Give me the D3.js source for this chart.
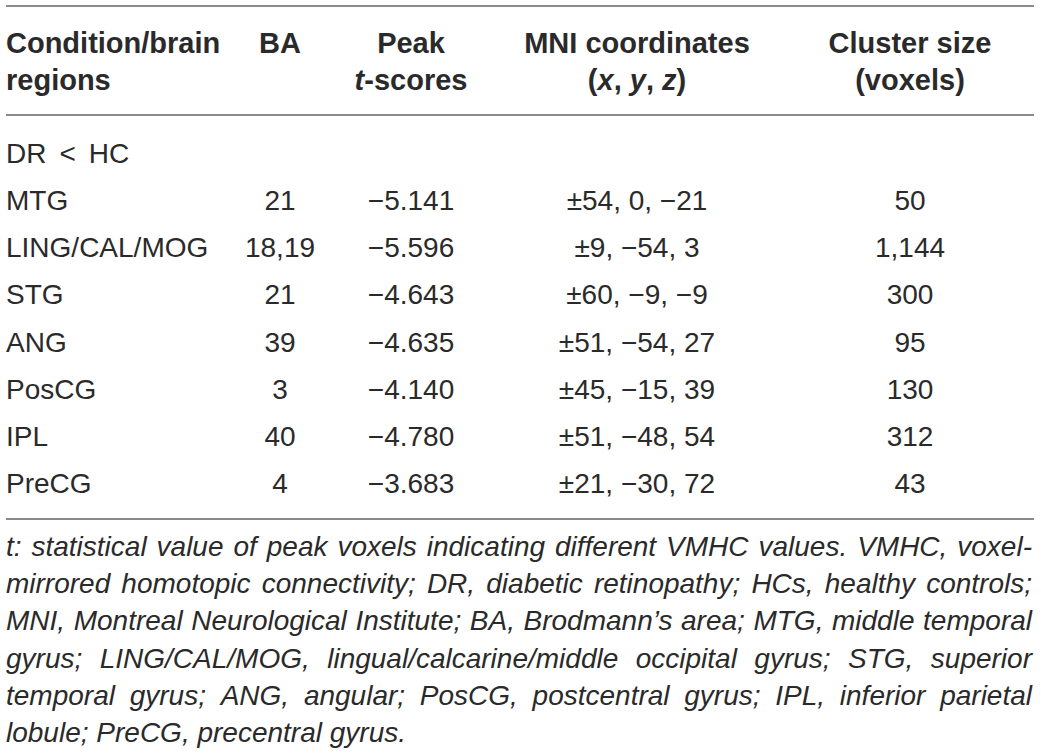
<!DOCTYPE html>
<html>
<head>
<meta charset="utf-8">
<script src="https://cdn.jsdelivr.net/npm/d3@7"></script>
<style>
  html, body { margin: 0; padding: 0; background: #fff; }
  text { font-family: "Liberation Sans", Arial, sans-serif; fill: #2b2a2a; }
</style>
</head>
<body>
<svg id="table"></svg>
<script>
const groupLabel = ["DR", "<", "HC"]
const regions = ["MTG", "LING/CAL/MOG", "STG", "ANG", "PosCG", "IPL", "PreCG"]
const brodmann = ["21", "18,19", "21", "39", "3", "40", "4"]
const peakT = [-5.141, -5.596, -4.643, -4.635, -4.140, -4.780, -3.683]
const mniCoords = [[54, 0, -21], [9, -54, 3], [60, -9, -9], [51, -54, 27], [45, -15, 39], [51, -48, 54], [21, -30, 72]]
const clusterSize = [50, 1144, 300, 95, 130, 312, 43]

const footnoteLines = [
  "t: statistical value of peak voxels indicating different VMHC values. VMHC, voxel-",
  "mirrored homotopic connectivity; DR, diabetic retinopathy; HCs, healthy controls;",
  "MNI, Montreal Neurological Institute; BA, Brodmann\u2019s area; MTG, middle temporal",
  "gyrus; LING/CAL/MOG, lingual/calcarine/middle occipital gyrus; STG, superior",
  "temporal gyrus; ANG, angular; PosCG, postcentral gyrus; IPL, inferior parietal",
  "lobule; PreCG, precentral gyrus."
]

const width = 1041, height = 754
const left = 6, right = 1034

let svg = d3.select('#table')
  .attr('width', width)
  .attr('height', height)

const columns = ["region", "ba", "t", "mni", "size"]

let colX = d3.scaleOrdinal()
  .domain(columns)
  .range([left, 280, 411, 637, 910])

let colAnchor = d3.scaleOrdinal()
  .domain(columns)
  .range(["start", "middle", "middle", "middle", "middle"])

let rowY = d3.scalePoint()
  .domain(["group"].concat(regions))
  .range([163, 493])

const minus = v => (v < 0 ? "\u2212" : "") + Math.abs(v)
const fmtT = v => "\u2212" + d3.format(".3f")(Math.abs(v))
const fmtSize = d3.format(",")

// rules
const rules = [6, 115, 519]
svg.selectAll('line.rule')
  .data(rules)
  .enter().append('line')
  .attr('class', 'rule')
  .attr('x1', left).attr('x2', right)
  .attr('y1', d => d).attr('y2', d => d)
  .attr('stroke', '#8a8a8a')
  .attr('stroke-width', 2)

// header
const header = [
  { col: "region", lines: [[["Condition/brain", false]], [["regions", false]]] },
  { col: "ba", lines: [[["BA", false]]] },
  { col: "t", lines: [[["Peak", false]], [["t", true], ["-scores", false]]] },
  { col: "mni", lines: [[["MNI coordinates", false]], [["(", false], ["x", true], [", ", false], ["y", true], [", ", false], ["z", true], [")", false]]] },
  { col: "size", lines: [[["Cluster size", false]], [["(voxels)", false]]] }
]
const headY = [53, 90]

header.forEach(h => {
  h.lines.forEach((parts, i) => {
    let t = svg.append('text')
      .attr('x', colX(h.col))
      .attr('y', headY[i])
      .attr('text-anchor', colAnchor(h.col))
      .style('font-size', '29px')
      .style('font-weight', 'bold')
    parts.forEach(p => {
      t.append('tspan').text(p[0]).style('font-style', p[1] ? 'italic' : 'normal')
    })
  })
})

// body
const bodySize = '28px'
let group = svg.append('text')
  .attr('x', colX("region"))
  .attr('y', rowY("group"))
  .style('font-size', bodySize)
groupLabel.forEach((w, i) => {
  group.append('tspan').attr('dx', i ? 13 : 0).text(w)
})

const rows = regions.map((r, i) => ({
  region: r,
  ba: brodmann[i],
  t: fmtT(peakT[i]),
  mni: "\u00b1" + mniCoords[i][0] + ", " + minus(mniCoords[i][1]) + ", " + minus(mniCoords[i][2]),
  size: fmtSize(clusterSize[i])
}))

let rowG = svg.selectAll('g.row')
  .data(rows)
  .enter().append('g')
  .attr('class', 'row')
  .attr('transform', d => `translate(0,${rowY(d.region)})`)

rowG.selectAll('text')
  .data(d => columns.map(c => ({ col: c, value: d[c] })))
  .enter().append('text')
  .attr('x', d => colX(d.col))
  .attr('text-anchor', d => colAnchor(d.col))
  .style('font-size', bodySize)
  .text(d => d.value)

// footnote, justified
const noteY = d3.scaleLinear().domain([0, 5]).range([556, 742])

footnoteLines.forEach((line, i) => {
  let words = line.split(" ")
  let t = svg.append('text')
    .attr('y', noteY(i))
    .style('font-size', '28px')
    .style('font-style', 'italic')
  let spans = words.map(w => t.append('tspan').text(w))
  let widths = spans.map(s => s.node().getComputedTextLength())
  let total = d3.sum(widths)
  let last = i === footnoteLines.length - 1
  let gap = last ? 7.8 : (right - 2 - left - total) / (words.length - 1)
  let x = left
  spans.forEach((s, j) => {
    s.attr('x', x)
    x += widths[j] + gap
  })
})
</script>
</body>
</html>
